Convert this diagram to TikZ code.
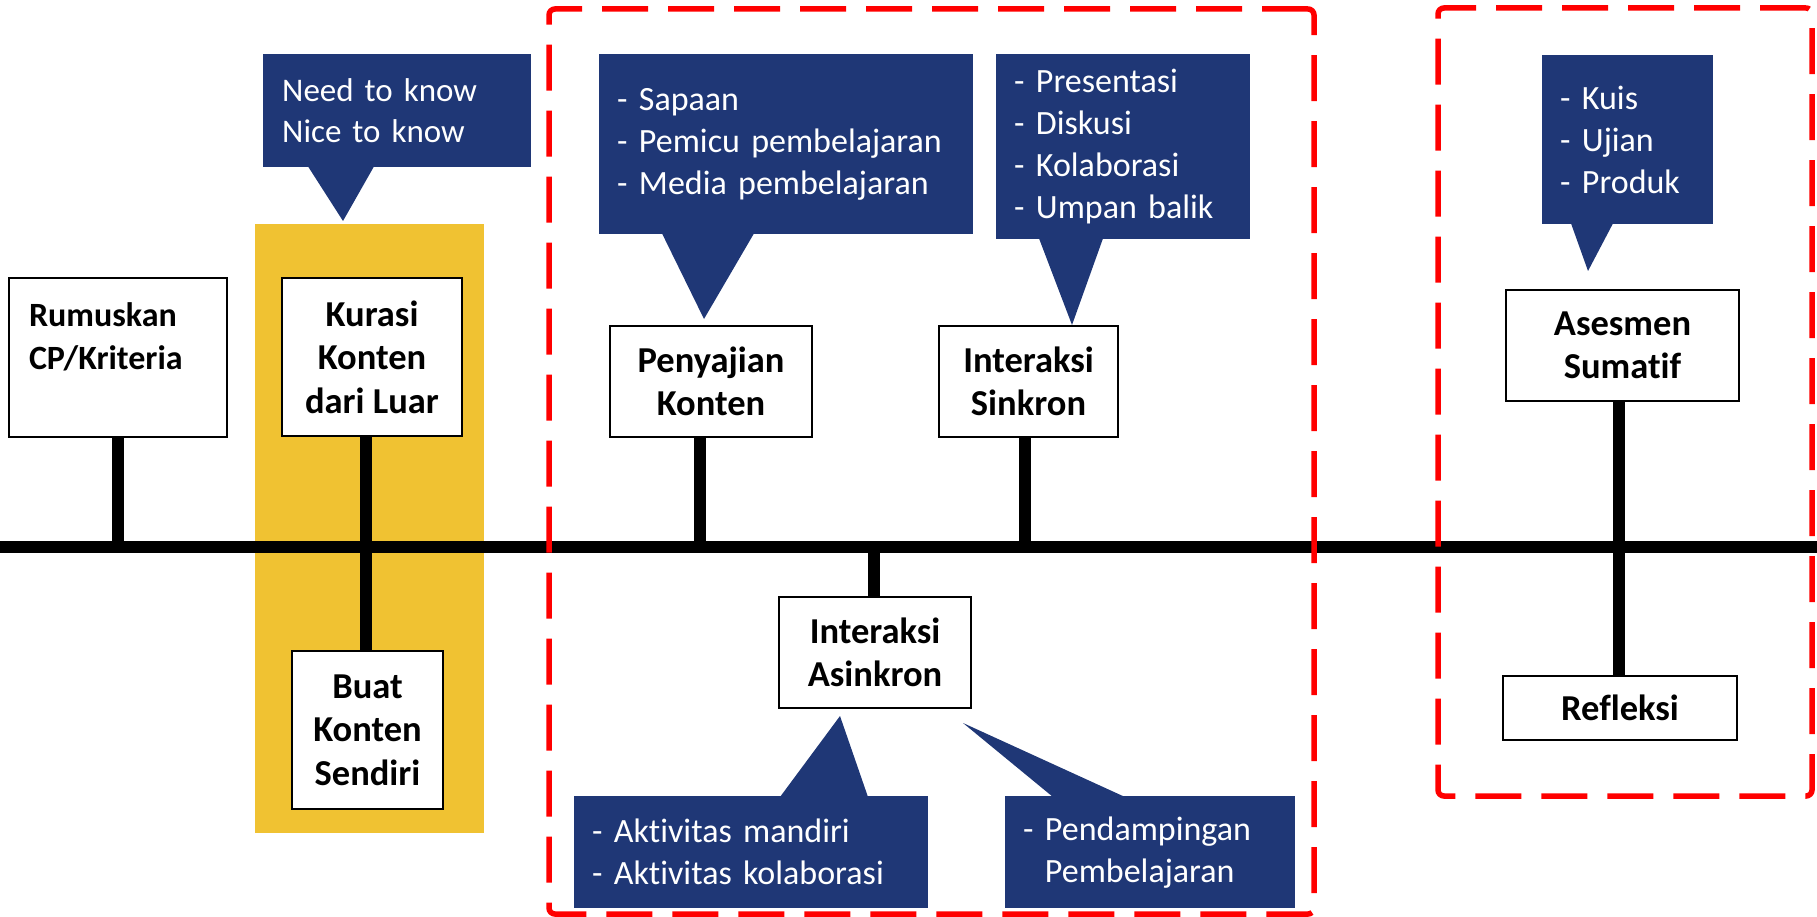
\documentclass[tikz,border=0pt]{standalone}
\usepackage{fontspec}
\setmainfont{Carlito}[Ligatures={NoCommon}]
\usetikzlibrary{calc}
\definecolor{navy}{RGB}{31,55,118}
\definecolor{gold}{RGB}{240,194,50}
\definecolor{dashred}{RGB}{255,0,0}
\begin{document}
\begin{tikzpicture}[x=1pt,y=-1pt,
  stepbox/.style={draw=black, line width=2.5pt, fill=white, inner sep=0pt, align=center,
    font=\fontsize{36.5}{43.5}\selectfont\bfseries},
  callout/.style={fill=navy, anchor=north west, inner ysep=0pt, align=left, text=white,
    font=\fontsize{34}{42}\selectfont},
  pointer/.style={fill=navy},
  stem/.style={line width=12pt},
  timeline/.style={line width=12pt},
  grp/.style={draw=dashred, line width=5.5pt, dash pattern=on 46pt off 20pt, rounded corners=6pt, inner sep=0pt},
  band/.style={fill=gold, inner sep=0pt},
]
\useasboundingbox (0,0) rectangle (1817,917);

% yellow band
\node[band, minimum width=229pt, minimum height=609pt] (band) at (369.5,528.5) {};

% timeline
\coordinate (tl) at (0,547);
\coordinate (tr) at (1817,547);
\coordinate (t1) at (118,547);
\coordinate (t2) at (366,547);
\coordinate (t3) at (700,547);
\coordinate (t4) at (874,547);
\coordinate (t5) at (1025,547);
\coordinate (t6) at (1619,547);
\draw[timeline] (tl) -- (tr);

% boxes
\node[stepbox, minimum width=218pt, minimum height=159pt, text width=178pt, align=left,
      font=\fontsize{34}{42.5}\selectfont\bfseries] (rum) at (118,357.5) {Rumuskan\\CP/Kriteria\\\mbox{}};
\node[stepbox, minimum width=180pt, minimum height=158pt] (kur) at (372,357) {Kurasi\\Konten\\dari Luar};
\node[stepbox, minimum width=151pt, minimum height=158pt] (buat) at (367.5,730) {Buat\\Konten\\Sendiri};
\node[stepbox, minimum width=202pt, minimum height=111pt] (pen) at (711,381.5) {Penyajian\\Konten};
\node[stepbox, minimum width=179pt, minimum height=111pt] (sink) at (1028.5,381.5) {Interaksi\\Sinkron};
\node[stepbox, minimum width=192pt, minimum height=111pt] (asin) at (875,652.5) {Interaksi\\Asinkron};
\node[stepbox, minimum width=233pt, minimum height=111pt] (ases) at (1622.5,345.5) {Asesmen\\Sumatif};
\node[stepbox, minimum width=234pt, minimum height=64pt] (refl) at (1620,708) {Refleksi};

% stems
\draw[stem] (rum.south -| t1) -- (t1);
\draw[stem] (kur.south -| t2) -- (buat.north -| t2);
\draw[stem] (pen.south -| t3) -- (t3);
\draw[stem] (t4) -- (asin.north -| t4);
\draw[stem] (sink.south -| t5) -- (t5);
\draw[stem] (ases.south -| t6) -- (refl.north -| t6);

% callouts
\node[callout, minimum width=268pt, minimum height=113pt, inner xsep=19pt, text width=230pt,
      font=\fontsize{33}{41.5}\selectfont] (need) at (263,54) {Need to know\\Nice to know};
\coordinate (needtip) at (343,221);
\fill[pointer] ($(need.south west)+(45,-1)$) -- ($(need.south west)+(111,-1)$) -- (needtip) -- cycle;

\node[callout, minimum width=374pt, minimum height=180pt, inner xsep=18pt, text width=338pt] (penc) at (599,54) {- Sapaan\\- Pemicu pembelajaran\\- Media pembelajaran};
\coordinate (pentip) at (704,319);
\fill[pointer] ($(penc.south west)+(63,-1)$) -- ($(penc.south west)+(155,-1)$) -- (pentip) -- cycle;

\node[callout, minimum width=254pt, minimum height=185pt, inner xsep=18pt, text width=218pt] (sinkc) at (996,54) {- Presentasi\\- Diskusi\\- Kolaborasi\\- Umpan balik};
\coordinate (sinktip) at (1072,325);
\fill[pointer] ($(sinkc.south west)+(43,-1)$) -- ($(sinkc.south west)+(107,-1)$) -- (sinktip) -- cycle;

\node[callout, minimum width=171pt, minimum height=169pt, inner xsep=18pt, text width=135pt] (kuis) at (1542,55) {- Kuis\\- Ujian\\- Produk};
\coordinate (kuistip) at (1588,271);
\fill[pointer] ($(kuis.south west)+(29,-1)$) -- ($(kuis.south west)+(71,-1)$) -- (kuistip) -- cycle;

\node[callout, minimum width=354pt, minimum height=112pt, inner xsep=18pt, text width=318pt] (aktl) at (574,796) {- Aktivitas mandiri\\- Aktivitas kolaborasi};
\coordinate (aktltip) at (840,716);
\fill[pointer] ($(aktl.north west)+(206,1)$) -- ($(aktl.north west)+(294,1)$) -- (aktltip) -- cycle;

\node[callout, minimum width=290pt, minimum height=112pt, inner xsep=18pt, text width=254pt] (aktr) at (1005,796) {- Pendampingan\\\hphantom{- }Pembelajaran};
\coordinate (aktrtip) at (963,723);
\fill[pointer] ($(aktr.north west)+(48,1)$) -- ($(aktr.north west)+(120,1)$) -- (aktrtip) -- cycle;

% dashed group frames
\node[grp, minimum width=765pt, minimum height=905pt] (grp1) at (931.5,461.5) {};
\node[grp, minimum width=374pt, minimum height=788pt] (grp2) at (1625,402) {};
\end{tikzpicture}
\end{document}
